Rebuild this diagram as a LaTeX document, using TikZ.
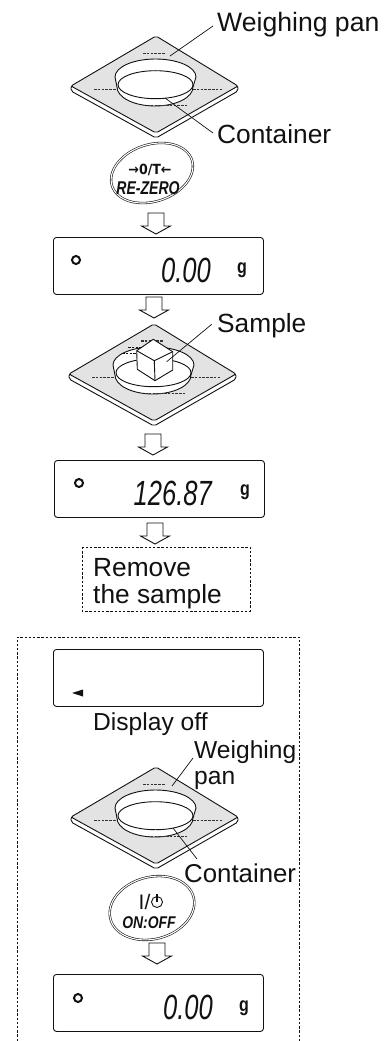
\documentclass[tikz,border=0pt]{standalone}
\usepackage{fontspec}
\setmainfont{Liberation Sans}
\newfontfamily\symfont{DejaVu Sans}
\usepackage{xcolor}
\usepackage{tikz}
\definecolor{ink}{HTML}{111111}
\definecolor{plate}{HTML}{E3E3E3}
\definecolor{hidden}{HTML}{333333}
\tikzset{
  outline/.style={draw=ink, line width=0.9pt},
  hiddenline/.style={draw=hidden, line width=0.7pt, dash pattern=on 2.6pt off 1.2pt},
  framedash/.style={draw=ink, line width=0.8pt, dash pattern=on 2.4pt off 1.8pt},
  leader/.style={draw=ink, line width=0.7pt},
  lab/.style={text=ink, font=\fontsize{26.3}{26}\selectfont, inner sep=0pt, anchor=base west},
  labsmall/.style={lab, font=\fontsize{24.6}{25}\selectfont},
  lcdbox/.style={outline, rectangle, rounded corners=3pt, anchor=north west,
    minimum width=210pt, minimum height=57pt},
  lcdnum/.style={text=ink, font=\fontsize{35}{35}\selectfont\itshape, xscale=0.73, inner sep=0pt, anchor=base east},
  lcdunit/.style={text=ink, font=\fontsize{20}{20}\selectfont\bfseries, xscale=0.8, inner sep=0pt},
  lcdmark/.style={circle, draw=ink, line width=2pt, minimum size=8pt, inner sep=0pt},
  btnring/.style={draw=ink, line width=0.6pt, double=white, double distance=1.1pt},
  btnlab/.style={text=ink, inner sep=0pt, font=\fontsize{18.5}{18}\selectfont\bfseries\itshape},
  pics/downarrow/.style={code={
    \draw[outline, fill=white] (-8,0)--(8,0)--(8,13)--(14.5,13)--(0,21)--(-14.5,13)--(-8,13)--cycle;
  }},
  pics/pan/.style={code={
    \draw[outline, fill=white, rounded corners=2pt] (-84,5)--(-84,0)--(83,0)--(83,5)--(1,52)--cycle;
    \draw[outline, fill=plate, rounded corners=2pt] (1,-50)--(83,0)--(1,47)--(-84,0)--cycle;
    \draw[hiddenline] (-12,-33)--(10,-33);
    \draw[hiddenline] (-61,3)--(-38,3);
    \draw[hiddenline] (38,3)--(67,3);
    \draw[outline, fill=white] (-40,-9) arc[start angle=180, end angle=0, x radius=40.5pt, y radius=18pt]
      -- (38,1) arc[start angle=0, end angle=-180, x radius=38pt, y radius=19pt] -- cycle;
    \draw[outline] (0.5,-1.3) ellipse[x radius=37.5pt, y radius=14pt];
    \draw[hiddenline] (-8,19)--(32,19);
  }}
}

\begin{document}
\begin{tikzpicture}[x=1pt, y=-1pt]
  \useasboundingbox (0,0) rectangle (387,1041);

  % first pan with the empty container
  \pic at (155,86) {pan};
  \node[lab, font=\fontsize{26.6}{26}\selectfont] (panA) at (217,32) {Weighing pan};
  \node[lab] (contA) at (217,143) {Container};
  \coordinate (panAend) at (170,56);
  \coordinate (panAtip) at (213,26);
  \coordinate (contAend) at (165,98);
  \coordinate (contAtip) at (213,133);
  \draw[leader] (panAend)--(panAtip);
  \draw[leader] (contAend)--(contAtip);

  % re-zero key
  \draw[btnring, shift={(152,173)}, rotate=18] (0,0) ellipse[x radius=42pt, y radius=28.5pt];
  \node[text=ink, inner sep=0pt, font=\symfont\fontsize{14}{14}\selectfont\bfseries, xscale=0.9] (zeroA) at (150,170) {→0/T←};
  \node[btnlab, xscale=0.76] (zeroB) at (148,188) {RE-ZERO};
  \pic at (156,213) {downarrow};

  % reading 0.00
  \node[lcdbox] (lcdA) at (53,237) {};
  \node[lcdmark] (markA) at (76,260) {};
  \node[lcdnum] (numA) at (211,282) {0.00};
  \node[lcdunit] (unitA) at (242,270) {g};
  \pic at (154,297) {downarrow};

  % pan with the sample on it
  \pic at (153,374) {pan};
  \draw[draw=ink, line width=0.7pt, dash pattern=on 2.6pt off 1.2pt] (128,347)--(147,347);
  \draw[draw=ink, line width=0.7pt, dash pattern=on 2.6pt off 1.2pt] (122,353)--(137,353);
  \draw[hiddenline] (141,340)--(163,340);
  \draw[outline, fill=white, line join=round] (153.3,339.3)--(172.7,351.7)--(172.7,370)--(155,380.7)--(137.3,369.3)--(136.7,350.7)--cycle;
  \draw[outline] (136.7,350.7)--(154.3,360.7)--(172.7,351.7);
  \draw[outline] (154.3,360.7)--(155,380.7);
  \node[lab] (sampleA) at (217,332) {Sample};
  \coordinate (sampleend) at (166.7,361.7);
  \coordinate (sampletip) at (211.7,324.3);
  \draw[leader] (sampleend)--(sampletip);
  \pic at (153,434) {downarrow};

  % reading 126.87
  \node[lcdbox] (lcdB) at (54,460) {};
  \node[lcdmark] (markB) at (79,483) {};
  \node[lcdnum] (numB) at (212,505) {126.87};
  \node[lcdunit] (unitB) at (245,492) {g};
  \pic at (155,523) {downarrow};

  % remove step
  \draw[framedash] (82,547) rectangle (250,611);
  \node[lab] (removeA) at (93,576) {Remove};
  \node[lab] (removeB) at (93,603) {the sample};

  % frame of the power-off part, open at the foot
  \draw[framedash] (17,1041)--(17,637)--(299,637)--(299,1041);

  \node[lcdbox] (lcdC) at (53,649) {};
  \fill[ink] (72,693)--(83,689.5)--(83,696.5)--cycle;
  \node[labsmall] (offA) at (93,730) {Display off};

  % second pan with the empty container
  \pic at (155,817) {pan};
  \node[labsmall] (panB) at (194,758) {Weighing};
  \node[labsmall] (panC) at (194,784) {pan};
  \node[lab, font=\fontsize{25.8}{26}\selectfont] (contB) at (184,882) {Container};
  \coordinate (panBend) at (172,786);
  \coordinate (panBtip) at (193,758);
  \coordinate (contBend) at (173,828);
  \coordinate (contBtip) at (197,859);
  \draw[leader] (panBend)--(panBtip);
  \draw[leader] (contBend)--(contBtip);

  % on:off key
  \draw[btnring, shift={(152,908)}, rotate=15] (0,0) ellipse[x radius=43pt, y radius=31pt];
  \node[text=ink, inner sep=0pt, font=\fontsize{21}{21}\selectfont] (onA) at (144.5,902) {I/};
  \draw[outline, line width=0.9pt] (157,902) circle (5.5pt);
  \draw[outline, line width=1.1pt] (157,894)--(157,902);
  \node[btnlab, font=\fontsize{17}{17}\selectfont\bfseries\itshape, xscale=0.82] (onB) at (149,923) {ON:OFF};
  \pic at (157,943) {downarrow};

  % reading 0.00 again
  \node[lcdbox] (lcdD) at (53,974) {};
  \node[lcdmark] (markD) at (78,998) {};
  \node[lcdnum] (numD) at (213,1019) {0.00};
  \node[lcdunit] (unitD) at (244,1008) {g};
\end{tikzpicture}
\end{document}
